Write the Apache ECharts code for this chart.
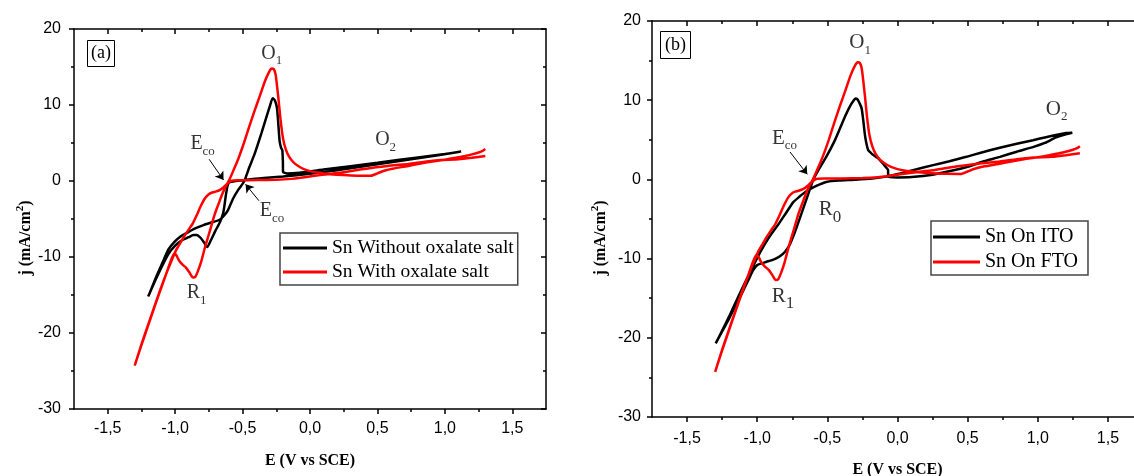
<!DOCTYPE html>
<html>
<head>
<meta charset="utf-8">
<script src="https://cdn.jsdelivr.net/npm/echarts@6/dist/echarts.min.js"></script>
<style>
html, body { margin: 0; padding: 0; background: #fff; }
#main { width: 1134px; height: 476px; }
</style>
</head>
<body>
<div id="main"></div>
<script>
var myChart = echarts.init(document.getElementById('main'));

// axis ranges and tick positions (E in V vs SCE, j in mA/cm2)
var eRange = [-1.75, 1.75];
var jRange = [-30, 20];
var eMajor = [-1.5, -1, -0.5, 0, 0.5, 1, 1.5];
var eMinor = [-1.25, -0.75, -0.25, 0.25, 0.75, 1.25];

// panel (a): Sn without oxalate salt
var snWithout = [
  [-1.20,-15.2],[-1.19,-14.8],[-1.14,-12.6],[-1.09,-10.6],[-1.05,-9.0],[-1.005,-8.0],
  [-0.96,-7.3],[-0.92,-6.9],[-0.86,-6.3],[-0.79,-5.8],[-0.72,-5.4],[-0.67,-5.1],
  [-0.64,-4.6],[-0.61,-3.9],[-0.57,-2.3],[-0.53,-1.1],[-0.49,-0.1],[-0.45,1.8],
  [-0.41,3.6],[-0.36,6.3],[-0.32,8.6],[-0.295,10.0],[-0.277,10.9],[-0.26,10.6],
  [-0.245,9.6],[-0.235,7.5],[-0.225,5.2],[-0.215,4.4],[-0.205,4.0],[-0.201,2.5],
  [-0.2,1.2],[-0.17,1.0],[-0.1,1.05],[0.1,1.5],[0.5,2.4],[0.8,3.1],[1.0,3.55],[1.12,3.9],
  [1.1,3.8],[0.8,3.0],[0.5,2.2],[0.2,1.4],[0.0,0.95],[-0.2,0.6],[-0.344,0.4],[-0.45,0.2],
  [-0.55,0.0],[-0.6,-0.2],[-0.613,-0.75],[-0.625,-2.0],[-0.635,-3.3],[-0.645,-4.3],
  [-0.667,-5.4],[-0.7,-6.5],[-0.735,-7.8],[-0.762,-8.7],[-0.785,-8.1],[-0.81,-7.5],
  [-0.84,-7.1],[-0.865,-7.1],[-0.9,-7.4],[-0.95,-7.8],[-1.0,-8.5],[-1.05,-9.6],
  [-1.1,-11.3],[-1.15,-13.2],[-1.2,-15.2]
];

// Sn with oxalate salt = Sn on FTO (same red curve in both panels)
var snWith = [
  [-1.30,-24.3],[-1.25,-21.6],[-1.2,-19.0],[-1.15,-16.4],[-1.1,-13.9],[-1.06,-11.9],
  [-1.03,-10.4],[-1.005,-9.5],[-0.99,-9.8],[-0.97,-10.5],[-0.945,-11.0],[-0.92,-11.4],
  [-0.895,-12.0],[-0.868,-12.7],[-0.85,-12.6],[-0.83,-11.8],[-0.805,-10.5],[-0.78,-8.8],
  [-0.755,-7.3],[-0.73,-5.8],[-0.705,-4.3],[-0.68,-3.1],[-0.655,-1.9],[-0.63,-0.9],
  [-0.6,0.1],[-0.57,1.3],[-0.53,3.0],[-0.49,5.0],[-0.45,7.2],[-0.41,9.3],[-0.37,11.3],
  [-0.335,13.1],[-0.305,14.3],[-0.285,14.8],[-0.268,14.7],[-0.255,14.0],[-0.245,12.6],
  [-0.232,10.5],[-0.218,8.0],[-0.2,5.6],[-0.18,4.2],[-0.155,3.2],[-0.125,2.5],[-0.09,2.0],
  [-0.05,1.6],[0.0,1.3],[0.07,1.05],[0.15,0.9],[0.25,0.78],[0.35,0.7],[0.45,0.68],
  [0.5,1.0],[0.55,1.35],[0.62,1.65],[0.72,1.95],[0.82,2.3],[0.92,2.6],[1.0,2.8],
  [1.08,3.05],[1.15,3.3],[1.2,3.5],[1.25,3.75],[1.28,3.95],[1.3,4.2],
  [1.3,'-'],
  [1.3,3.3],[1.2,3.05],[1.1,2.85],[0.97,2.75],[0.85,2.55],[0.73,2.25],[0.6,2.05],
  [0.49,1.8],[0.37,1.5],[0.25,1.15],[0.13,0.9],[0.02,0.65],[-0.07,0.42],[-0.14,0.28],
  [-0.25,0.18],[-0.4,0.12],[-0.52,0.1],[-0.58,0.05],[-0.61,-0.3],[-0.64,-0.8],
  [-0.67,-1.2],[-0.7,-1.4],[-0.73,-1.55],[-0.755,-1.8],[-0.78,-2.3],[-0.81,-3.3],
  [-0.84,-4.5],[-0.87,-5.6],[-0.9,-6.4],[-0.93,-7.2],[-0.96,-8.1],[-0.99,-9.0],
  [-1.02,-10.2],[-1.05,-11.5],[-1.09,-13.3],[-1.14,-15.8],[-1.2,-18.9],[-1.25,-21.5],
  [-1.3,-24.3]
];

// panel (b): Sn on ITO
var snOnITO = [
  [-1.296,-20.7],[-1.25,-19.2],[-1.207,-17.8],[-1.15,-15.8],[-1.104,-14.2],[-1.06,-12.6],
  [-1.03,-11.5],[-1.0,-10.8],[-0.97,-10.6],[-0.933,-10.4],[-0.88,-10.1],[-0.838,-9.7],
  [-0.8,-9.1],[-0.767,-8.2],[-0.73,-6.6],[-0.696,-4.9],[-0.665,-3.3],[-0.635,-1.8],
  [-0.6,0.0],[-0.56,1.3],[-0.506,2.9],[-0.45,4.8],[-0.411,6.4],[-0.37,8.1],[-0.34,9.2],
  [-0.315,9.9],[-0.3,10.2],[-0.285,10.1],[-0.27,9.6],[-0.256,9.0],[-0.245,7.6],
  [-0.232,5.6],[-0.22,4.4],[-0.209,3.7],[-0.19,3.35],[-0.174,3.1],[-0.14,2.7],
  [-0.114,2.2],[-0.09,1.7],[-0.067,1.15],[-0.067,0.3],[0.0,0.25],[0.1,0.3],[0.25,0.6],
  [0.4,1.15],[0.5,1.6],[0.6,2.2],[0.73,2.85],[0.85,3.5],[0.97,4.1],[1.05,4.6],[1.13,5.3],
  [1.2,5.7],[1.246,5.9],
  [1.2,5.85],[1.156,5.7],[1.05,5.3],[0.966,4.95],[0.85,4.5],[0.729,4.0],[0.6,3.4],
  [0.491,2.85],[0.37,2.3],[0.254,1.8],[0.13,1.25],[0.02,0.75],[-0.08,0.35],[-0.18,0.1],
  [-0.3,-0.05],[-0.42,-0.15],[-0.5,-0.3],[-0.55,-0.6],[-0.6,-1.0],[-0.65,-1.5],
  [-0.7,-2.2],[-0.744,-2.9],[-0.797,-4.3],[-0.85,-5.7],[-0.9,-6.9],[-0.95,-8.3],
  [-1.0,-9.9],[-1.05,-11.7],[-1.1,-13.5],[-1.15,-15.4],[-1.2,-17.3],[-1.25,-19.1],
  [-1.296,-20.7]
];

var namesA = ['Sn Without oxalate salt', 'Sn With oxalate salt'];
var namesB = ['Sn On ITO', 'Sn On FTO'];

// peak labels: main letter, subscript, anchor (top-left) in data units
var peaksA = [
  { t: 'O', s: '1', e: -0.361, j: 18.1 },
  { t: 'O', s: '2', e: 0.483, j: 6.7 },
  { t: 'R', s: '1', e: -0.914, j: -13.4 },
  { t: 'E', s: 'co', e: -0.887, j: 6.2 },
  { t: 'E', s: 'co', e: -0.372, j: -2.6 }
];
var peaksB = [
  { t: 'O', s: '1', e: -0.344, j: 18.6 },
  { t: 'O', s: '2', e: 1.057, j: 10.2 },
  { t: 'R', s: '0', e: -0.562, j: -2.5, big: true },
  { t: 'R', s: '1', e: -0.897, j: -13.4, big: true },
  { t: 'E', s: 'co', e: -0.895, j: 6.5 }
];
// E_co arrows: [from, to]
var arrowsA = [
  [[-0.748, 2.86], [-0.641, 0.13]],
  [[-0.379, -2.59], [-0.478, -0.43]]
];
var arrowsB = [
  [[-0.766, 3.46], [-0.643, 0.64]]
];

var serif = 'Liberation Serif';
var sans = 'Liberation Sans';
var frame = { color: '#000', width: 1.5 };

function fmtE(v) {
  return v.toFixed(1).replace('.', ',');
}

function xAxes(grid, labelMargin, nameGap) {
  var base = {
    type: 'value', gridIndex: grid, min: eRange[0], max: eRange[1],
    splitLine: { show: false }
  };
  return [
    Object.assign({}, base, {
      position: 'bottom',
      axisLine: { show: true, onZero: false, lineStyle: frame },
      axisTick: { show: true, inside: false, length: 5, customValues: eMajor, lineStyle: frame },
      axisLabel: { customValues: eMajor, formatter: fmtE, margin: labelMargin,
        fontFamily: sans, fontSize: 16, color: '#000' },
      name: 'E (V vs SCE)', nameLocation: 'middle', nameGap: nameGap,
      nameTextStyle: { fontFamily: serif, fontWeight: 'bold', fontSize: 16, color: '#000' }
    }),
    Object.assign({}, base, {
      position: 'bottom',
      axisLine: { show: false, onZero: false },
      axisTick: { show: true, inside: false, length: 3, customValues: eMinor, lineStyle: frame },
      axisLabel: { show: false }
    }),
    Object.assign({}, base, {
      position: 'top',
      axisLine: { show: true, onZero: false, lineStyle: frame },
      axisTick: { show: true, inside: true, length: 5, customValues: eMajor, lineStyle: frame },
      axisLabel: { show: false }
    }),
    Object.assign({}, base, {
      position: 'top',
      axisLine: { show: false, onZero: false },
      axisTick: { show: true, inside: true, length: 3, customValues: eMinor, lineStyle: frame },
      axisLabel: { show: false }
    })
  ];
}

function yAxes(grid, labelMargin, nameGap) {
  var base = {
    type: 'value', gridIndex: grid, min: jRange[0], max: jRange[1], interval: 10,
    splitLine: { show: false }, minorSplitLine: { show: false }
  };
  return [
    Object.assign({}, base, {
      position: 'left',
      axisLine: { show: true, onZero: false, lineStyle: frame },
      axisTick: { show: true, inside: false, length: 5, lineStyle: frame },
      minorTick: { show: true, splitNumber: 2, length: 3, lineStyle: frame },
      axisLabel: { margin: labelMargin, fontFamily: sans, fontSize: 16, color: '#000' },
      name: '{m|j (mA/cm}{s|2}{m|)}', nameLocation: 'middle', nameGap: nameGap,
      nameTextStyle: {
        padding: [0, 38, 0, 0],
        rich: {
          m: { fontFamily: serif, fontWeight: 'bold', fontSize: 16, color: '#000',
            lineHeight: 18, padding: [3, 0, 0, 0], verticalAlign: 'top' },
          s: { fontFamily: serif, fontWeight: 'bold', fontSize: 11, color: '#000',
            lineHeight: 11, verticalAlign: 'top' }
        }
      }
    }),
    Object.assign({}, base, {
      position: 'right',
      axisLine: { show: true, onZero: false, lineStyle: frame },
      axisTick: { show: true, inside: true, length: 5, lineStyle: frame },
      minorTick: { show: true, splitNumber: 2, length: 3, lineStyle: frame },
      axisLabel: { show: false }
    })
  ];
}

function curve(name, data, color, xi, yi) {
  return {
    name: name, type: 'line', xAxisIndex: xi, yAxisIndex: yi, data: data,
    symbol: 'none', smooth: 0.2, connectNulls: false,
    lineStyle: { color: color, width: 2.5 },
    itemStyle: { color: color }
  };
}

function labels(peaks, arrows, xi, yi, size) {
  return {
    type: 'scatter', xAxisIndex: xi, yAxisIndex: yi, symbolSize: 0, silent: true, z: 5,
    data: peaks.map(function (p) {
      return {
        value: [p.e, p.j],
        label: { formatter: '{m|' + p.t + '}{' + (p.big ? 'b' : 's') + '|' + p.s + '}' }
      };
    }),
    label: {
      show: true, position: [0, 0], align: 'left', verticalAlign: 'top',
      rich: {
        m: { fontFamily: serif, fontSize: size, color: '#000', lineHeight: size, verticalAlign: 'top' },
        s: { fontFamily: serif, fontSize: 13, color: '#000', lineHeight: 13,
          padding: [size * 0.55, 0, 0, 0], verticalAlign: 'top' },
        b: { fontFamily: serif, fontSize: 17, color: '#000', lineHeight: 17,
          padding: [size * 0.45, 0, 0, 0], verticalAlign: 'top' }
      }
    },
    markLine: {
      silent: true, symbol: ['none', 'arrow'], symbolSize: 8,
      lineStyle: { color: '#000', width: 1, type: 'solid' },
      label: { show: false },
      data: arrows.map(function (a) {
        return [{ coord: a[0] }, { coord: a[1] }];
      })
    }
  };
}

function legendBox(names, left, top, itemWidth, gap, padding, size) {
  return {
    data: names, orient: 'vertical', left: left, top: top, icon: 'rect',
    itemWidth: itemWidth, itemHeight: 3, itemGap: gap, padding: padding,
    borderColor: '#444', borderWidth: 1.5, backgroundColor: '#fff',
    selectedMode: false,
    textStyle: { fontFamily: serif, fontSize: size, color: '#000', lineHeight: 20 }
  };
}

var option = {
  animation: false,
  backgroundColor: '#fff',
  title: [
    { text: '(a)', left: 87, top: 40, padding: [3, 4, 4, 4], borderColor: '#000', borderWidth: 1,
      textStyle: { fontFamily: serif, fontSize: 18, fontWeight: 'normal', color: '#000', lineHeight: 20 } },
    { text: '(b)', left: 660, top: 31, padding: [4, 5, 4, 5], borderColor: '#000', borderWidth: 1,
      textStyle: { fontFamily: serif, fontSize: 18, fontWeight: 'normal', color: '#000', lineHeight: 20 } }
  ],
  legend: [
    legendBox(namesA, 280, 233, 44, 4, [5, 4, 3, 3], 19.5),
    legendBox(namesB, 931, 221, 47, 5, [6, 10, 3, 2], 20)
  ],
  grid: [
    { left: 74, top: 29, width: 472, height: 380, outerBoundsMode: 'none' },
    { left: 652, top: 21, width: 491, height: 396, outerBoundsMode: 'none' }
  ],
  xAxis: xAxes(0, 12, 44).concat(xAxes(1, 14, 45)),
  yAxis: yAxes(0, 13, 37).concat(yAxes(1, 11, 44)),
  series: [
    curve(namesA[0], snWithout, '#000', 0, 0),
    curve(namesA[1], snWith, '#ff0000', 0, 0),
    labels(peaksA, arrowsA, 0, 0, 20),
    curve(namesB[0], snOnITO, '#000', 4, 2),
    curve(namesB[1], snWith, '#ff0000', 4, 2),
    labels(peaksB, arrowsB, 4, 2, 21)
  ]
};

myChart.setOption(option);
</script>
</body>
</html>
